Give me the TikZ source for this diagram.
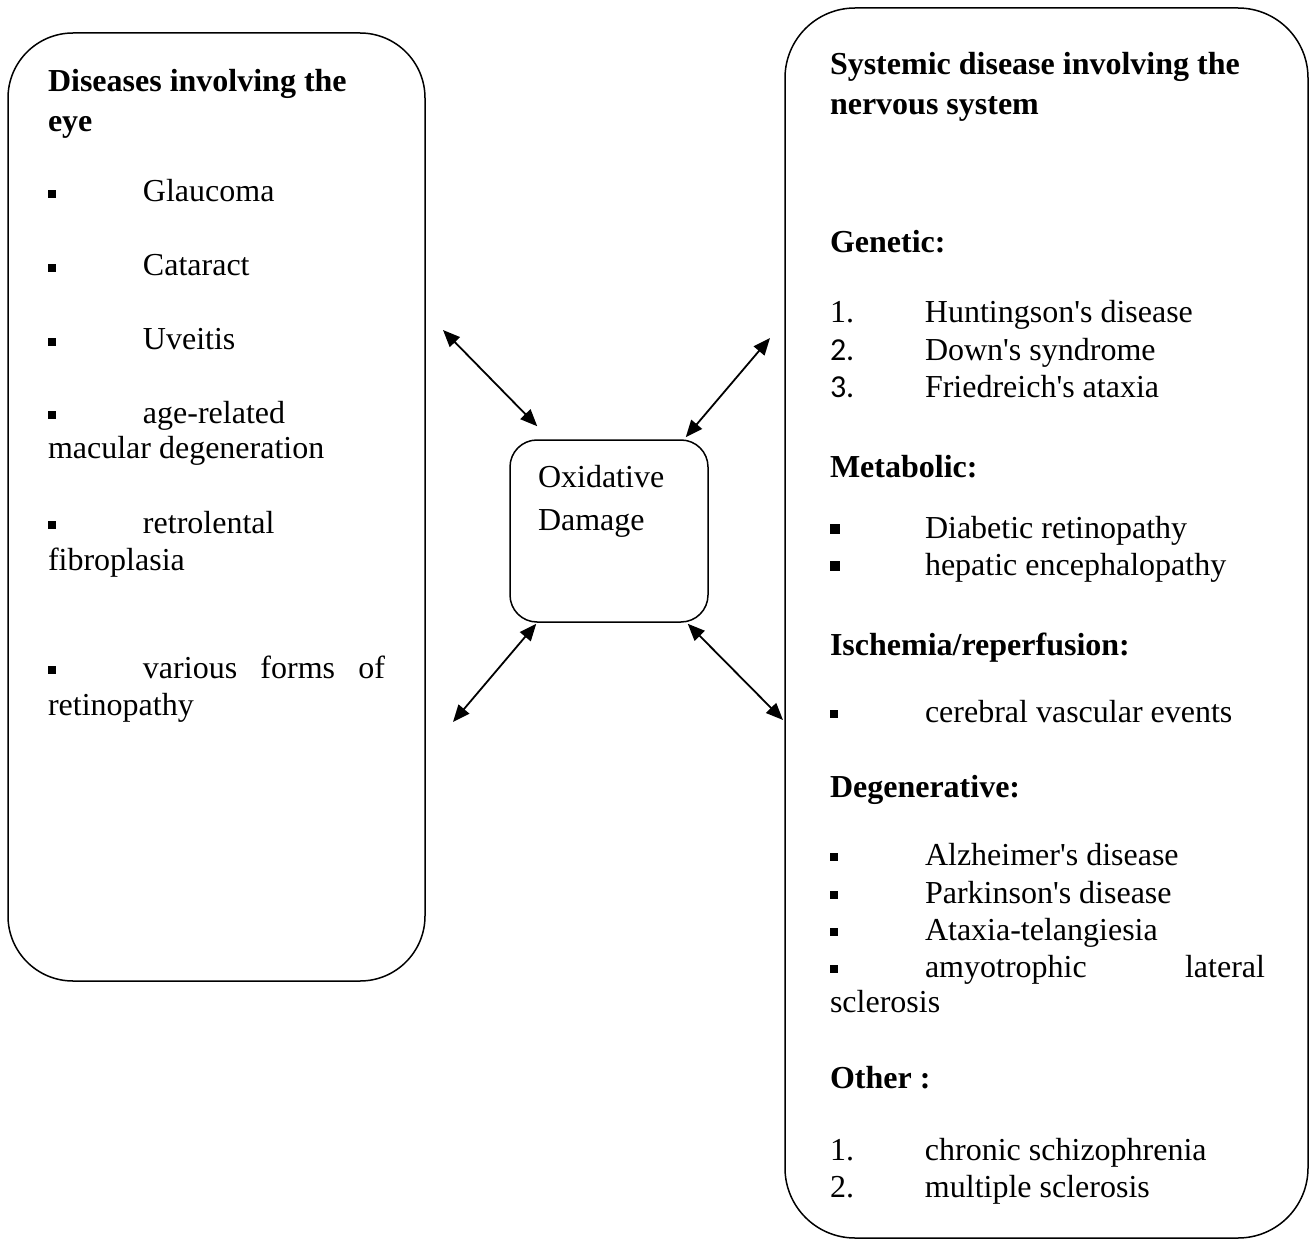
\documentclass[tikz,border=0pt]{standalone}
\usepackage{fontspec}
\setmainfont{Liberation Serif}[Ligatures=TeXOff]
\newfontfamily\carl{Carlito}
\usetikzlibrary{arrows.meta}
\newcommand\sqb{\rule[4pt]{8pt}{8pt}}
\newcommand\bsqb{\rule[4.5pt]{10pt}{10pt}}
\newcommand\lbl[1]{\makebox[95pt][l]{#1}}
\begin{document}
\begin{tikzpicture}[x=1pt,y=-1pt,
  txt/.style={anchor=base west,inner sep=0pt,outer sep=0pt,font=\fontsize{32}{38}\selectfont},
  hd/.style={anchor=base west,inner sep=0pt,outer sep=0pt,font=\fontsize{32}{38}\selectfont\bfseries},
  frame/.style={draw,line width=1.5pt,rounded corners=#1,inner sep=0pt},
  dbl/.style={line width=1.8pt,{Triangle[length=17pt,width=14pt]}-{Triangle[length=17pt,width=14pt]}}]
\useasboundingbox (0,0) rectangle (1315,1241);
% frames
\node[frame=65pt, minimum width=417pt, minimum height=948pt] (eyebox) at (216.5,507) {};
\node[frame=70pt, minimum width=523pt, minimum height=1230pt] (nerve) at (1046.5,623) {};
\node[frame=27pt, minimum width=198pt, minimum height=182pt] (ox) at (609,531) {};
% centre text
\node[txt] (ox1) at (538,487) {Oxidative};
\node[txt] (ox2) at (538,530) {Damage};
% arrows
\coordinate (e1) at (443,330);
\coordinate (e2) at (770,338);
\coordinate (e3) at (453,722);
\coordinate (e4) at (783,720);
\draw[dbl] (e1) -- ([xshift=28pt,yshift=13pt]ox.north west);
\draw[dbl] (e2) -- ([xshift=-23pt,yshift=2pt]ox.north east);
\draw[dbl] ([xshift=27pt,yshift=-1pt]ox.south west) -- (e3);
\draw[dbl] ([xshift=-21pt,yshift=-1pt]ox.south east) -- (e4);
% left box text
\node[hd] (l1) at (48,92) {Diseases involving the};
\node[hd] (l2) at (48,132) {eye};
\node[txt] (l3) at (48,202) {\lbl{\sqb}Glaucoma};
\node[txt] (l4) at (48,276) {\lbl{\sqb}Cataract};
\node[txt] (l5) at (48,350) {\lbl{\sqb}Uveitis};
\node[txt] (l6) at (48,423) {\lbl{\sqb}age-related};
\node[txt] (l7) at (48,458) {macular degeneration};
\node[txt] (l8) at (48,533) {\lbl{\sqb}retrolental};
\node[txt] (l9) at (48,570) {fibroplasia};
\node[txt] (l10) at (48,678) {\lbl{\sqb}\makebox[242pt][s]{various forms of}};
\node[txt] (l11) at (48,715) {retinopathy};
% right box text
\node[hd] (r1) at (830,75) {Systemic disease involving the};
\node[hd] (r2) at (830,115) {nervous system};
\node[hd] (r3) at (830,253) {Genetic:};
\node[txt] (r4) at (830,323) {\lbl{1.}Huntingson's disease};
\node[txt] (r5) at (830,360) {\lbl{\carl 2.}Down's syndrome};
\node[txt] (r6) at (830,397) {\lbl{\carl 3.}Friedreich's ataxia};
\node[hd] (r7) at (830,477) {Metabolic:};
\node[txt] (r8) at (830,538) {\lbl{\bsqb}Diabetic retinopathy};
\node[txt] (r9) at (830,575) {\lbl{\bsqb}hepatic encephalopathy};
\node[hd] (r10) at (830,655) {Ischemia/reperfusion:};
\node[txt] (r11) at (830,722) {\lbl{\sqb}cerebral vascular events};
\node[hd] (r12) at (830,797) {Degenerative:};
\node[txt] (r13) at (830,865) {\lbl{\sqb}Alzheimer's disease};
\node[txt] (r14) at (830,903) {\lbl{\sqb}Parkinson's disease};
\node[txt] (r15) at (830,940) {\lbl{\sqb}Ataxia-telangiesia};
\node[txt] (r16) at (830,977) {\lbl{\sqb}\makebox[340pt][s]{amyotrophic lateral}};
\node[txt] (r17) at (830,1012) {sclerosis};
\node[hd] (r18) at (830,1088) {Other :};
\node[txt] (r19) at (830,1160) {\lbl{1.}chronic schizophrenia};
\node[txt] (r20) at (830,1197) {\lbl{2.}multiple sclerosis};
\end{tikzpicture}
\end{document}
